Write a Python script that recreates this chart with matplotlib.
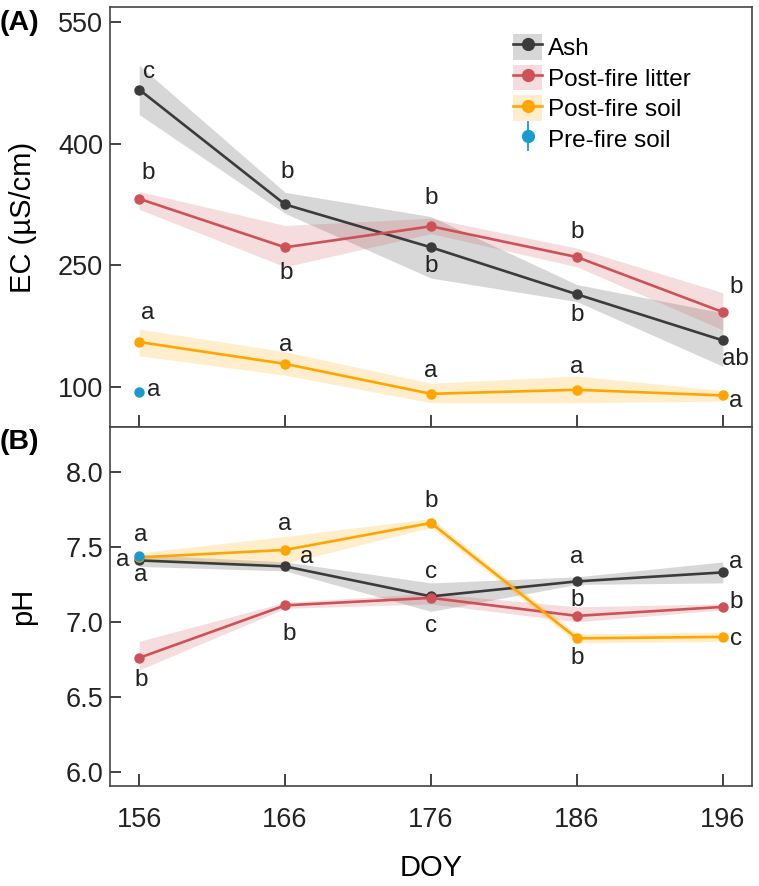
import matplotlib
matplotlib.use("Agg")
import matplotlib.pyplot as plt
from matplotlib.patches import Patch
from matplotlib.lines import Line2D

plt.rcParams["font.family"] = ["Liberation Sans", "DejaVu Sans"]

doy = [156, 166, 176, 186, 196]

# EC (uS/cm), mean with band limits
ec_ash = [467, 325, 272, 214, 157]
ec_ash_lo = [436, 314, 234, 205, 125]
ec_ash_hi = [497, 340, 310, 226, 191]
ec_litter = [332, 272, 298, 260, 192]
ec_litter_lo = [319, 248, 289, 248, 170]
ec_litter_hi = [341, 299, 308, 271, 216]
ec_soil = [155, 128, 91, 96, 89]
ec_soil_lo = [138, 114, 80, 80, 82]
ec_soil_hi = [171, 143, 104, 113, 95]
ec_pre = 93
ec_pre_err = 1.5

# pH
ph_ash = [7.41, 7.37, 7.17, 7.27, 7.33]
ph_ash_lo = [7.37, 7.34, 7.07, 7.25, 7.26]
ph_ash_hi = [7.45, 7.40, 7.26, 7.30, 7.40]
ph_litter = [6.76, 7.11, 7.16, 7.04, 7.10]
ph_litter_lo = [6.68, 7.09, 7.12, 7.00, 7.08]
ph_litter_hi = [6.87, 7.13, 7.19, 7.10, 7.12]
ph_soil = [7.43, 7.48, 7.66, 6.89, 6.90]
ph_soil_lo = [7.40, 7.39, 7.63, 6.86, 6.87]
ph_soil_hi = [7.46, 7.57, 7.69, 6.92, 6.93]
ph_pre = 7.44
ph_pre_err = 0.01

# significance letters
ec_ash_let = ["c", "b", "b", "b", "ab"]
ec_litter_let = ["b", "b", "b", "b", "b"]
ec_soil_let = ["a", "a", "a", "a", "a"]
ec_pre_let = "a"
ph_ash_let = ["a", "a", "c", "a", "a"]
ph_litter_let = ["b", "b", "c", "b", "b"]
ph_soil_let = ["a", "a", "b", "b", "c"]
ph_pre_let = "a"

# letter offsets in pixels (layout only)
ec_ash_off = [(10, 18), (2, 32), (0, -19), (0, -21), (13, -19)]
ec_litter_off = [(9, 26), (1, -26), (0, 28), (0, 25), (13, 25)]
ec_soil_off = [(9, 29), (1, 19), (0, 23), (0, 23), (13, -6)]
ec_pre_off = (15, 2)
ph_ash_off = [(2, -15), (22, 9), (0, 24), (0, 24), (13, 10)]
ph_litter_off = [(2, -22), (4, -29), (0, -28), (0, 16), (13, 5)]
ph_soil_off = [(2, 22), (0, 26), (0, 22), (0, -20), (13, -2)]
ph_pre_off = (-16, -4)

c_ash = "#3b3b3b"
c_litter = "#cd5257"
c_soil = "#ffa500"
c_pre = "#1a9bd0"

W, H = 759, 886
fig = plt.figure(figsize=(W / 100, H / 100), dpi=100)
axA = fig.add_axes([110 / W, (H - 427) / H, 642 / W, 420 / H])
axB = fig.add_axes([110 / W, (H - 786) / H, 642 / W, 359 / H])

lab_fs = 17.5


def series(ax, y, lo, hi, color, letters, offs):
    ax.fill_between(doy, lo, hi, color=color, alpha=0.2, lw=0)
    ax.plot(doy, y, color=color, lw=1.9, marker="o", ms=6.5, zorder=3)
    for x, v, t, o in zip(doy, y, letters, offs):
        ax.annotate(t, (x, v), xytext=o, textcoords="offset pixels",
                    ha="center", va="center", fontsize=lab_fs, color="#222222")


def prefire(ax, y, err, letter, off):
    ax.errorbar([doy[0]], [y], yerr=[err], fmt="o", color=c_pre, ms=6.5,
                elinewidth=1.2, zorder=4)
    ax.annotate(letter, (doy[0], y), xytext=off, textcoords="offset pixels",
                ha="center", va="center", fontsize=lab_fs, color="#222222")


series(axA, ec_ash, ec_ash_lo, ec_ash_hi, c_ash, ec_ash_let, ec_ash_off)
series(axA, ec_litter, ec_litter_lo, ec_litter_hi, c_litter, ec_litter_let, ec_litter_off)
series(axA, ec_soil, ec_soil_lo, ec_soil_hi, c_soil, ec_soil_let, ec_soil_off)
prefire(axA, ec_pre, ec_pre_err, ec_pre_let, ec_pre_off)

series(axB, ph_ash, ph_ash_lo, ph_ash_hi, c_ash, ph_ash_let, ph_ash_off)
series(axB, ph_litter, ph_litter_lo, ph_litter_hi, c_litter, ph_litter_let, ph_litter_off)
series(axB, ph_soil, ph_soil_lo, ph_soil_hi, c_soil, ph_soil_let, ph_soil_off)
prefire(axB, ph_pre, ph_pre_err, ph_pre_let, ph_pre_off)

for ax in (axA, axB):
    ax.set_xlim(154, 198)
    ax.set_xticks(doy)
    for s in ax.spines.values():
        s.set_color("#444444")
        s.set_linewidth(1.2)
    ax.tick_params(axis="both", direction="in", width=1.2, colors="#222222",
                   labelsize=19.5)
    ax.tick_params(axis="y", length=7.7, pad=5)
    ax.tick_params(axis="x", length=8.5, pad=15)

axA.set_ylim(50, 569)
axA.set_yticks([100, 250, 400, 550])
axA.tick_params(axis="x", labelbottom=False)
axA.set_ylabel("EC (µS/cm)", fontsize=21)

axB.set_ylim(5.905, 8.3)
axB.set_yticks([6.0, 6.5, 7.0, 7.5, 8.0])
axB.set_yticklabels(["%.1f" % v for v in [6.0, 6.5, 7.0, 7.5, 8.0]])
axB.set_ylabel("pH", fontsize=21)
axB.set_xlabel("DOY", fontsize=21, labelpad=15)

axA.yaxis.set_label_coords(-0.113, 0.5)
axB.yaxis.set_label_coords(-0.113, 0.5)


def lh(color):
    return (Patch(color=color, alpha=0.2, lw=0),
            Line2D([], [], color=color, lw=1.9, marker="o", ms=8.5))


handles = [
    lh(c_ash), lh(c_litter), lh(c_soil),
    (Line2D([], [], ls="none", marker="|", ms=21, mew=1.3, color=c_pre),
     Line2D([], [], ls="none", marker="o", ms=8.5, color=c_pre)),
]
labels = ["Ash", "Post-fire litter", "Post-fire soil", "Pre-fire soil"]
axA.legend(handles, labels, loc="upper left", bbox_to_anchor=(0.628, 0.936),
           frameon=False, fontsize=17.5, borderpad=0, borderaxespad=0,
           handlelength=1.2, handleheight=1.25, handletextpad=0.25,
           labelspacing=0.19)

fig.text(0.0, 1 - 23 / H, "(A)", fontsize=20.5, fontweight="bold", va="center", ha="left")
fig.text(0.0, 1 - 442 / H, "(B)", fontsize=20.5, fontweight="bold", va="center", ha="left")

fig.savefig("out.png", dpi=100)
